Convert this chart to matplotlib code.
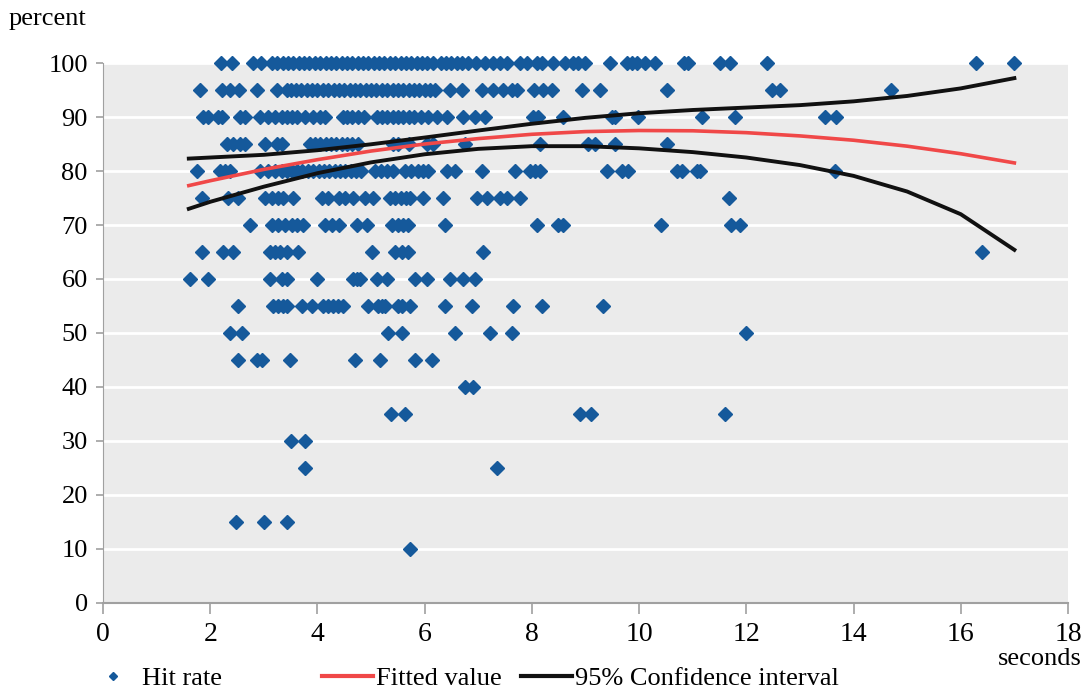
import matplotlib
matplotlib.use("Agg")
import matplotlib.pyplot as plt
from matplotlib.lines import Line2D

# Hit rate observations, grouped by the percent row they sit on (x = seconds)
hit_100 = [2.2, 2.4, 2.8, 2.95, 3.15, 3.25, 3.35, 3.45, 3.55, 3.65, 3.75, 3.85, 3.95,
           4.05, 4.15, 4.25, 4.35, 4.45, 4.55, 4.65, 4.75, 4.85, 4.95, 5.05, 5.15, 5.25,
           5.35, 5.45, 5.55, 5.65, 5.75, 5.85, 5.95, 6.05, 6.15, 6.3, 6.4, 6.5, 6.6, 6.7,
           6.8, 6.95, 7.13, 7.28, 7.4, 7.54, 7.78, 7.91, 8.1, 8.18, 8.4, 8.62, 8.77, 8.86,
           8.99, 9.46, 9.77, 9.86, 9.96, 10.11, 10.3, 10.83, 10.92, 11.5, 11.7, 12.38,
           16.29, 17.0]
hit_95 = [1.81, 2.21, 2.37, 2.53, 2.87, 3.24, 3.43, 3.5, 3.6, 3.7, 3.8, 3.9, 4.0, 4.1,
          4.2, 4.3, 4.4, 4.5, 4.6, 4.7, 4.8, 4.9, 5.0, 5.1, 5.2, 5.3, 5.4, 5.5, 5.6, 5.7,
          5.8, 5.9, 6.0, 6.1, 6.2, 6.47, 6.7, 7.07, 7.28, 7.46, 7.63, 7.72, 8.04, 8.21,
          8.38, 8.94, 9.27, 10.52, 12.47, 12.63, 14.7]
hit_90 = [1.87, 1.96, 2.15, 2.22, 2.56, 2.65, 2.93, 3.08, 3.21, 3.34, 3.43, 3.53, 3.62,
          3.77, 3.92, 4.05, 4.14, 4.48, 4.55, 4.65, 4.75, 4.87, 5.11, 5.2, 5.3, 5.4, 5.5,
          5.6, 5.7, 5.8, 5.93, 6.06, 6.23, 6.42, 6.72, 6.94, 7.13, 8.02, 8.12, 8.58, 9.5,
          9.55, 9.98, 11.18, 11.79, 13.47, 13.68]
hit_85 = [2.31, 2.43, 2.56, 2.65, 3.02, 3.25, 3.34, 3.86, 3.95, 4.05, 4.15, 4.25, 4.35,
          4.45, 4.55, 4.65, 4.75, 5.4, 5.5, 5.7, 6.05, 6.15, 6.75, 8.15, 9.05, 9.18,
          9.55, 10.52]
hit_80 = [1.75, 2.18, 2.28, 2.37, 2.93, 3.08, 3.21, 3.34, 3.43, 3.53, 3.62, 3.72, 3.82,
          3.92, 4.02, 4.12, 4.22, 4.32, 4.42, 4.52, 4.62, 4.72, 4.82, 5.07, 5.18, 5.3,
          5.41, 5.63, 5.75, 5.87, 5.97, 6.06, 6.42, 6.57, 7.07, 7.69, 7.97, 8.05, 8.15,
          9.4, 9.68, 9.8, 10.71, 10.8, 11.08, 11.14, 13.66]
hit_75 = [1.85, 2.33, 2.52, 3.02, 3.15, 3.27, 3.36, 3.54, 4.09, 4.2, 4.4, 4.51, 4.66,
          4.89, 5.04, 5.35, 5.45, 5.55, 5.65, 5.73, 5.97, 6.34, 6.98, 7.16, 7.41, 7.54,
          7.78, 11.68]
hit_70 = [2.74, 3.15, 3.27, 3.4, 3.53, 3.62, 3.73, 4.14, 4.27, 4.4, 4.74, 4.92, 5.39,
          5.5, 5.6, 5.69, 6.38, 8.1, 8.48, 8.58, 10.41, 11.72, 11.88]
hit_65 = [1.85, 2.24, 2.43, 3.12, 3.21, 3.3, 3.43, 3.64, 5.02, 5.45, 5.58, 5.69, 7.09,
          16.4]
hit_60 = [1.62, 1.96, 3.12, 3.34, 3.43, 3.99, 4.66, 4.73, 4.8, 5.11, 5.3, 5.82, 6.04,
          6.47, 6.72, 6.94]
hit_55 = [2.52, 3.17, 3.27, 3.36, 3.43, 3.71, 3.9, 4.1, 4.2, 4.29, 4.38, 4.48, 4.94,
          5.13, 5.2, 5.26, 5.5, 5.58, 5.73, 6.38, 6.88, 7.65, 8.18, 9.33]
hit_50 = [2.37, 2.59, 5.32, 5.58, 6.57, 7.22, 7.63, 12.0]
hit_45 = [2.52, 2.87, 2.97, 3.49, 4.7, 5.17, 5.82, 6.14]
hit_40 = [6.75, 6.9]
hit_35 = [5.37, 5.63, 8.9, 9.1, 11.6]
hit_30 = [3.5, 3.77]
hit_25 = [3.77, 7.35]
hit_15 = [2.48, 3.0, 3.43]
hit_10 = [5.73]

rows = {100: hit_100, 95: hit_95, 90: hit_90, 85: hit_85, 80: hit_80, 75: hit_75,
        70: hit_70, 65: hit_65, 60: hit_60, 55: hit_55, 50: hit_50, 45: hit_45,
        40: hit_40, 35: hit_35, 30: hit_30, 25: hit_25, 15: hit_15, 10: hit_10}

# fitted value and 95% confidence band
curve_x = [1.6, 2, 3, 4, 5, 6, 7, 8, 9, 10, 11, 12, 13, 14, 15, 16, 17]
fitted = [77.3, 78.2, 80.3, 82.1, 83.7, 85.0, 86.0, 86.8, 87.3, 87.5, 87.45, 87.1,
          86.5, 85.7, 84.6, 83.2, 81.5]
ci_upper = [82.3, 82.5, 83.0, 83.85, 84.95, 86.2, 87.5, 88.75, 89.85, 90.7, 91.3,
            91.75, 92.2, 92.9, 93.9, 95.3, 97.2]
ci_lower = [73.0, 74.3, 77.1, 79.6, 81.6, 83.1, 84.1, 84.6, 84.6, 84.2, 83.5, 82.5,
            81.1, 79.1, 76.2, 72.0, 65.4]

xs, ys = [], []
for pct, secs in rows.items():
    xs += secs
    ys += [pct] * len(secs)

blue = "#15599b"
red = "#f04848"
plt.rcParams["font.family"] = ["Liberation Serif", "DejaVu Serif"]
plt.rcParams["font.size"] = 19

fig = plt.figure(figsize=(10.88, 6.91), dpi=100)
ax = fig.add_axes([0.0947, 0.1274, 0.8869, 0.7814])
ax.set_facecolor("#ebebeb")

ax.plot(xs, ys, linestyle="none", marker="D", markersize=7.5, color=blue,
        clip_on=False, zorder=3)
ax.plot(curve_x, ci_upper, color="#111111", lw=2.8, zorder=4)
ax.plot(curve_x, ci_lower, color="#111111", lw=2.8, zorder=4)
ax.plot(curve_x, fitted, color=red, lw=2.6, zorder=4)

ax.set_xlim(0, 18)
ax.set_ylim(0, 100)
ax.set_xticks(range(0, 19, 2))
ax.set_yticks(range(0, 101, 10))
ax.yaxis.grid(True, color="white", lw=2)
ax.set_axisbelow(True)
for s in ["top", "right"]:
    ax.spines[s].set_visible(False)
ax.spines["left"].set_color("#a0a0a0")
ax.spines["bottom"].set_color("#a0a0a0")
ax.spines["bottom"].set_linewidth(1.5)
ax.tick_params(axis="x", length=8, width=1.2, color="#a0a0a0", pad=6, labelsize=20)
ax.tick_params(axis="y", length=5, width=1.2, color="#a0a0a0", pad=6, labelsize=19)

fig.text(0.044, 0.973, "percent", ha="center", va="center")
fig.text(0.956, 0.047, "seconds", ha="center", va="center")

h1 = Line2D([], [], linestyle="none", marker="D", markersize=4.5, color=blue)
h2 = Line2D([], [], color=red, lw=3)
h3 = Line2D([], [], color="#111111", lw=3)
fig.legend([h1], ["Hit rate"], loc="center left", bbox_to_anchor=(0.0775, 0.018),
           frameon=False, handlelength=1.35, handletextpad=0.45, borderaxespad=0)
fig.legend([h2], ["Fitted value"], loc="center left", bbox_to_anchor=(0.286, 0.018),
           frameon=False, handlelength=1.95, handletextpad=0.12, borderaxespad=0)
fig.legend([h3], ["95% Confidence interval"], loc="center left",
           bbox_to_anchor=(0.469, 0.018), frameon=False, handlelength=1.95,
           handletextpad=0.12, borderaxespad=0)

fig.savefig("out.png", dpi=100)
